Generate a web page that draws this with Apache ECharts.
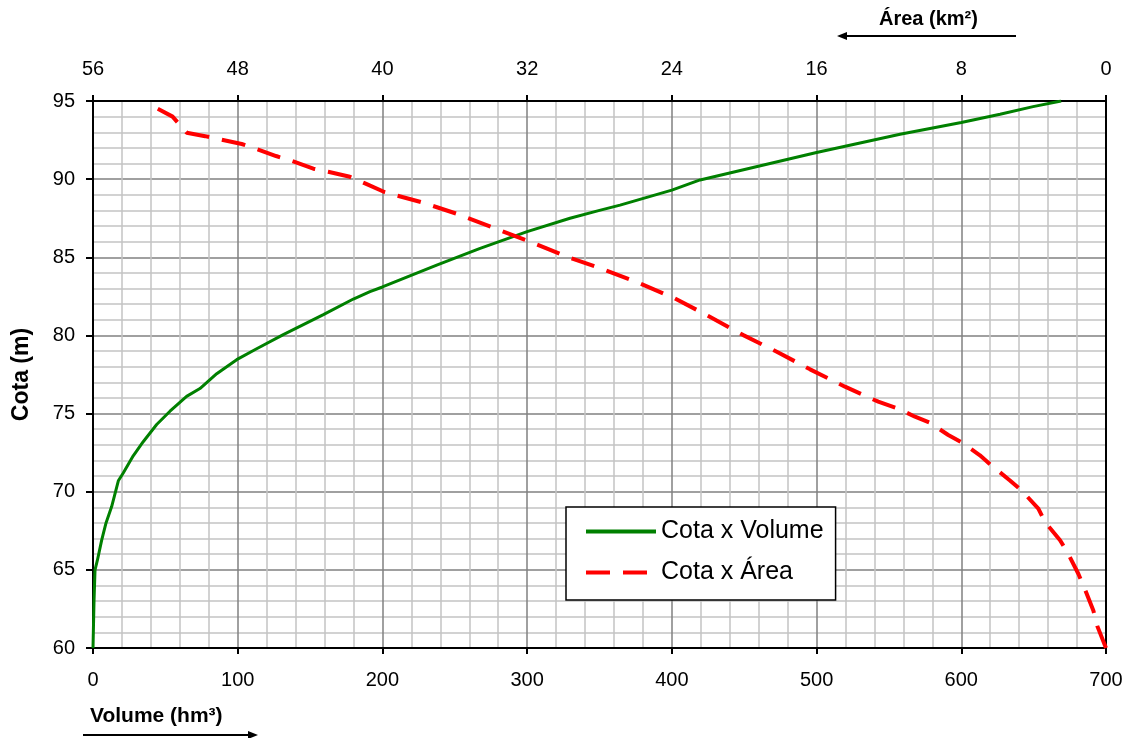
<!DOCTYPE html>
<html><head><meta charset="utf-8">
<script src="https://cdn.jsdelivr.net/npm/echarts@6/dist/echarts.min.js"></script>
<style>html,body{margin:0;padding:0;background:#fff}#c{width:1132px;height:738px}</style>
</head><body><div id="c"></div>
<script>
// Cota x Volume: volume (hm³) and cota (m)
const volVolume = [0,0.7,1.4,3,6,9,12.9,17.5,20.9,27.8,34.7,44,53.2,64.7,73.9,85.5,99.3,113.1,131.5,159.2,179.9,191.4,200,237.5,267.5,300,329.6,350,364.2,400,419.5,500,557.7,600,626.8,649.6,669];
const volCota   = [60,63,65,65.6,66.9,68,69.05,70.7,71.2,72.3,73.2,74.3,75.15,76.1,76.6,77.55,78.45,79.15,80.05,81.33,82.33,82.8,83.1,84.5,85.57,86.64,87.5,88.0,88.34,89.3,89.95,91.7,92.87,93.63,94.15,94.64,95];
// Cota x Área: area (km²) and cota (m)
const areaArea = [0,0.48,0.70,1.16,1.53,2.08,2.54,3.37,3.74,4.66,5.31,6.32,6.97,7.98,8.72,9.73,10.56,11.39,12.59,14.43,16.36,18.2,20.05,21.98,23.83,25.85,27.97,29.8,31.84,33.78,35.8,37.74,39.86,40.96,41.8,43.0,43.82,45.0,45.88,47.04,47.78,48.98,49.8,50.82,51.6,52.75];
const areaCota = [60,61.4,62.4,63.75,64.75,66.0,66.9,68.05,68.92,70.07,70.72,71.67,72.33,73.15,73.63,74.41,74.8,75.27,75.76,76.72,77.83,78.96,80.02,81.24,82.37,83.37,84.3,85.04,86.0,86.85,87.75,88.49,89.16,89.73,90.15,90.47,90.67,91.16,91.48,91.97,92.25,92.55,92.75,92.97,94.0,94.7];
const seriesNames = ['Cota x Volume','Cota x Área'];
const axisTitles = {volume:'Volume (hm³)', area:'Área (km²)', cota:'Cota (m)'};

const FONT = 'Liberation Sans, Arial, sans-serif';
const chart = echarts.init(document.getElementById('c'));
const volData = volVolume.map((v,i)=>[v, volCota[i]]);
const areaData = areaArea.map((v,i)=>[v, areaCota[i]]);
const lbl = {color:'#000', fontFamily:FONT, fontSize:20};
chart.setOption({
  animation:false,
  backgroundColor:'#fff',
  grid:{left:93, right:26, top:101, bottom:90, containLabel:false},
  xAxis:[{
    type:'value', position:'bottom', min:0, max:700, interval:100,
    axisLine:{show:true, onZero:false, lineStyle:{color:'#000', width:2}},
    axisTick:{show:true, length:6, lineStyle:{color:'#000', width:2}},
    axisLabel:Object.assign({margin:22}, lbl),
    splitLine:{show:true, lineStyle:{color:'#808080', width:1.5}},
    minorTick:{show:false, splitNumber:5},
    minorSplitLine:{show:true, lineStyle:{color:'#c4c4c4', width:1.5}}
  },{
    type:'value', position:'top', min:0, max:56, interval:8, inverse:true,
    axisLine:{show:true, onZero:false, lineStyle:{color:'#000', width:2}},
    axisTick:{show:true, length:6, lineStyle:{color:'#000', width:2}},
    axisLabel:Object.assign({margin:22}, lbl),
    splitLine:{show:false}
  }],
  yAxis:[{
    type:'value', position:'left', min:60, max:95, interval:5,
    name:axisTitles.cota, nameLocation:'middle', nameGap:60, nameRotate:90,
    nameTextStyle:{color:'#000', fontFamily:FONT, fontSize:23, fontWeight:'bold'},
    axisLine:{show:true, onZero:false, lineStyle:{color:'#000', width:2}},
    axisTick:{show:true, length:7, lineStyle:{color:'#000', width:2}},
    axisLabel:Object.assign({margin:18}, lbl),
    splitLine:{show:true, lineStyle:{color:'#808080', width:1.5}},
    minorTick:{show:false, splitNumber:5},
    minorSplitLine:{show:true, lineStyle:{color:'#c4c4c4', width:1.5}}
  },{
    type:'value', position:'right', min:60, max:95, interval:5,
    axisLine:{show:true, onZero:false, lineStyle:{color:'#000', width:2}},
    axisTick:{show:false}, axisLabel:{show:false}, splitLine:{show:false}
  }],
  legend:{
    left:566, top:507, orient:'vertical',
    backgroundColor:'#fff', borderColor:'#000', borderWidth:1.5,
    padding:[12,12,15,18], itemGap:16, itemWidth:70, itemHeight:14,
    itemStyle:{opacity:0},
    lineStyle:{width:4},
    textStyle:{color:'#000', fontFamily:FONT, fontSize:25},
    data:seriesNames
  },
  series:[{
    name:seriesNames[0], type:'line', xAxisIndex:0, yAxisIndex:0,
    data:volData, showSymbol:false, symbol:'none',
    lineStyle:{color:'#008000', width:3}, itemStyle:{color:'#008000'}
  },{
    name:seriesNames[1], type:'line', xAxisIndex:1, yAxisIndex:0,
    data:areaData, showSymbol:false, symbol:'none',
    lineStyle:{color:'#ff0000', width:4, type:[24,13]}, itemStyle:{color:'#ff0000'}
  }],
  graphic:[
    {type:'text', left:90, top:706, style:{text:axisTitles.volume, fill:'#000', font:'bold 21px '+FONT}},
    {type:'line', shape:{x1:83,y1:735,x2:250,y2:735}, style:{stroke:'#000', lineWidth:2}},
    {type:'polygon', shape:{points:[[258,735],[248,731],[248,739]]}, style:{fill:'#000'}},
    {type:'text', left:879, top:9, style:{text:axisTitles.area, fill:'#000', font:'bold 20px '+FONT}},
    {type:'line', shape:{x1:846,y1:36,x2:1016,y2:36}, style:{stroke:'#000', lineWidth:2}},
    {type:'polygon', shape:{points:[[837,36],[847,32],[847,40]]}, style:{fill:'#000'}}
  ]
});
</script></body></html>
